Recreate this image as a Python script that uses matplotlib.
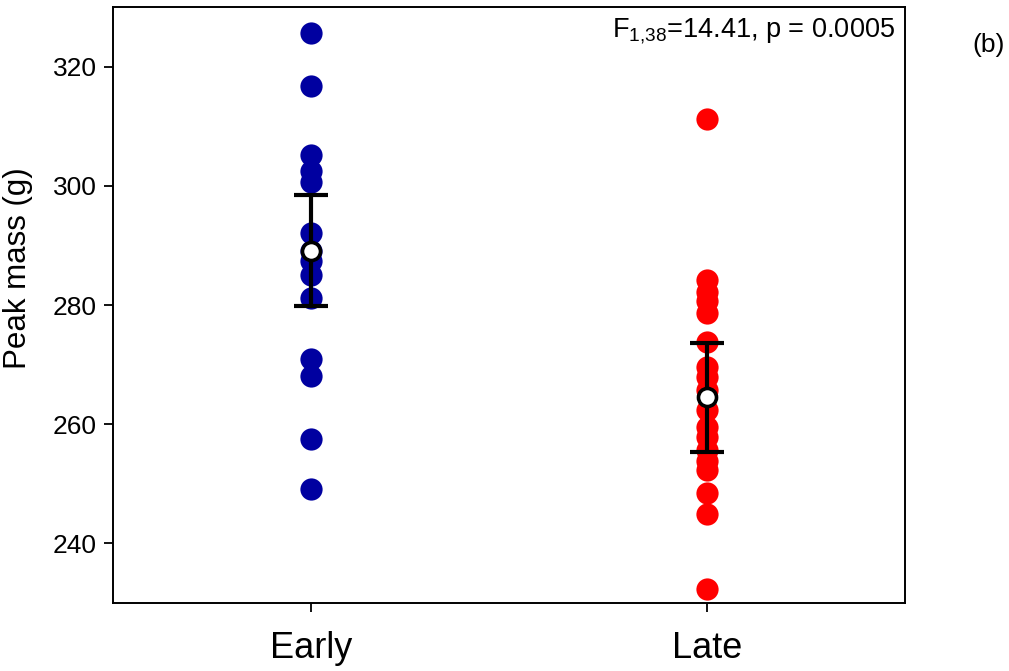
import matplotlib
matplotlib.use("Agg")
import matplotlib.pyplot as plt

plt.rcParams['font.family'] = ['Liberation Sans', 'DejaVu Sans']
plt.rcParams['mathtext.fontset'] = 'custom'
plt.rcParams['mathtext.rm'] = 'Liberation Sans'
plt.rcParams['mathtext.it'] = 'Liberation Sans'

categories = ["Early", "Late"]
early_mass = [325.7, 316.8, 305.2, 302.4, 300.7, 292.0, 289.0, 287.3, 285.0,
              281.1, 270.9, 268.1, 257.6, 249.2]
late_mass = [311.2, 284.2, 282.2, 280.6, 278.6, 273.8, 269.6, 268.0, 265.7,
             262.4, 259.5, 257.9, 255.6, 253.9, 252.3, 248.4, 245.0, 232.3]
group_means = [289.1, 264.5]
group_err = [9.3, 9.15]
yticks = [240, 260, 280, 300, 320]

fig = plt.figure(figsize=(10.09, 6.71), dpi=100)
ax = fig.add_axes([0.112, 0.1013, 0.785, 0.8883])

ax.plot([1] * len(early_mass), early_mass, 'o', color='#0000a0',
        markersize=16, markeredgewidth=0, zorder=2)
ax.plot([2] * len(late_mass), late_mass, 'o', color='#ff0000',
        markersize=16, markeredgewidth=0, zorder=2)

ax.errorbar([1, 2], group_means, yerr=group_err, fmt='none', ecolor='black',
            elinewidth=3, capsize=12, capthick=3, zorder=3)
ax.plot([1, 2], group_means, 'o', markerfacecolor='white',
        markeredgecolor='black', markersize=13, markeredgewidth=2.6,
        linestyle='none', zorder=4)

ax.set_xlim(0.5, 2.5)
ax.set_ylim(230, 330)
ax.set_xticks([1, 2])
ax.set_xticklabels(categories, fontsize=26)
ax.set_yticks(yticks)
ax.set_yticklabels([str(v) for v in yticks], fontsize=19)
ax.tick_params(axis='both', direction='out', length=6.5, width=1.3,
               top=False, right=False)
ax.tick_params(axis='x', pad=14)
ax.tick_params(axis='y', pad=5)
for s in ax.spines.values():
    s.set_linewidth(1.4)

ax.set_ylabel("Peak mass (g)", fontsize=22.5)
ax.yaxis.set_label_coords(-0.101, 0.562)

ax.text(0.988, 0.985, r"F$_{1{,}38}$=14.41, p = 0.0005", transform=ax.transAxes,
        ha='right', va='top', fontsize=19.5)
fig.text(0.996, 0.9225, "(b)", ha='right', va='baseline', fontsize=19)

fig.savefig("out.png", dpi=100)
